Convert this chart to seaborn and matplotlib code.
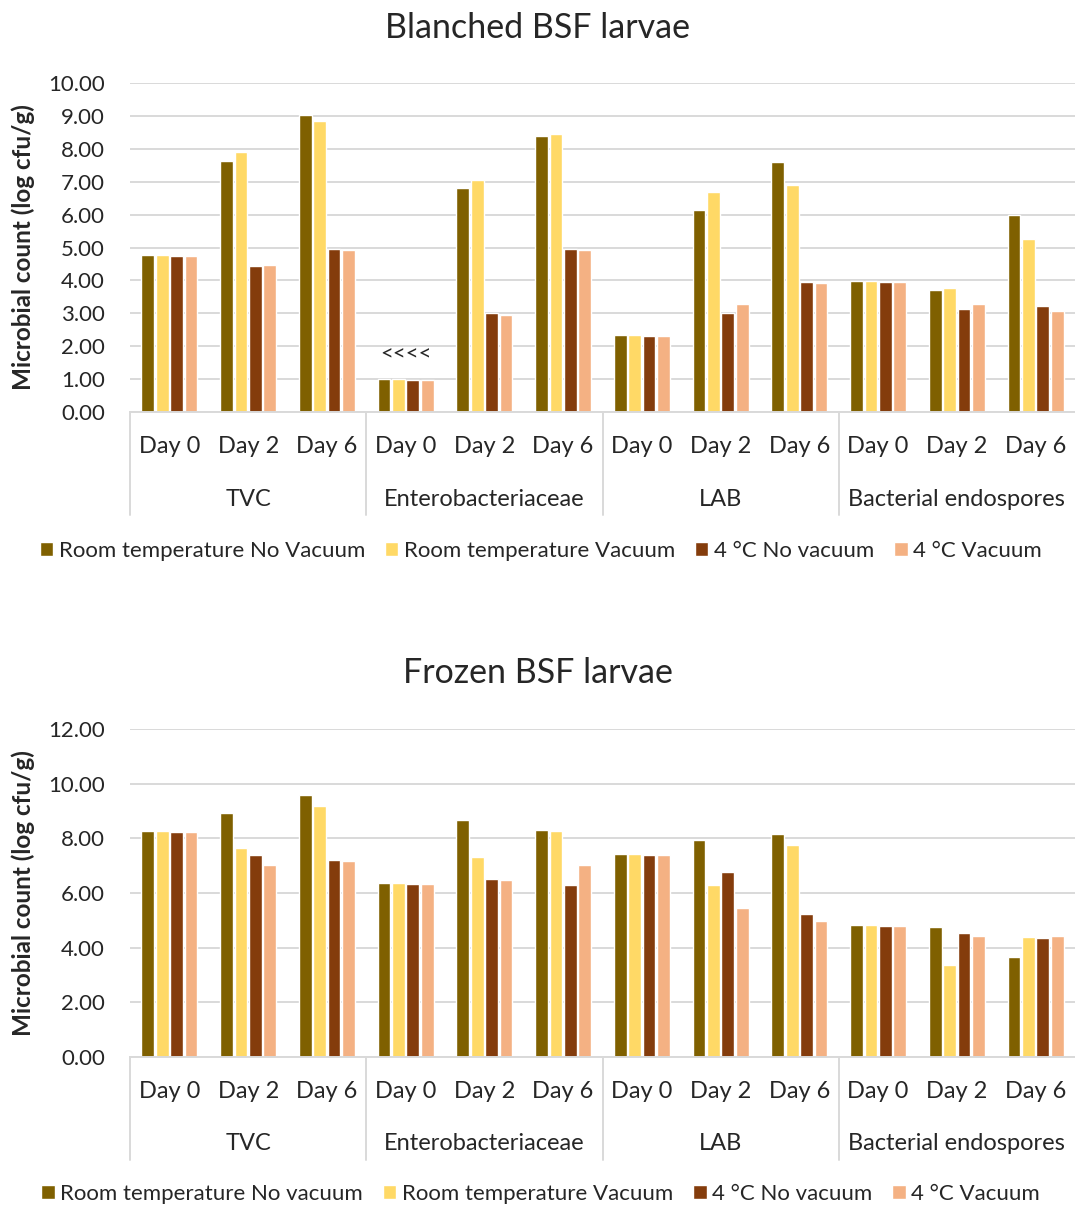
import matplotlib
matplotlib.use("Agg")
import matplotlib.pyplot as plt
import seaborn as sns
import pandas as pd
import numpy as np

# Categories
groups = ['TVC', 'Enterobacteriaceae', 'LAB', 'Bacterial endospores']
days = ['Day 0', 'Day 2', 'Day 6']

series_top = ['Room temperature No Vacuum', 'Room temperature Vacuum',
              '4 °C No vacuum', '4 °C Vacuum']
series_bottom = ['Room temperature No vacuum', 'Room temperature Vacuum',
                 '4 °C No vacuum', '4 °C Vacuum']
colors = ['#7F6000', '#FFD966', '#843C0C', '#F4B183']

# Blanched BSF larvae (log cfu/g), order: TVC d0,d2,d6, Entero d0,d2,d6, LAB ..., Endospores ...
blanched_rt_novac = [4.77, 7.62, 9.04, 1.00, 6.80, 8.39, 2.33, 6.15, 7.61, 3.98, 3.72, 5.99]
blanched_rt_vac   = [4.77, 7.90, 8.84, 1.00, 7.06, 8.46, 2.33, 6.68, 6.89, 3.98, 3.78, 5.25]
blanched_4c_novac = [4.74, 4.45, 4.96, 0.98, 3.01, 4.96, 2.30, 3.01, 3.95, 3.95, 3.14, 3.23]
blanched_4c_vac   = [4.74, 4.48, 4.93, 0.98, 2.95, 4.93, 2.30, 3.28, 3.92, 3.95, 3.28, 3.08]

# Frozen BSF larvae (log cfu/g)
frozen_rt_novac = [8.26, 8.92, 9.59, 6.38, 8.68, 8.29, 7.44, 7.94, 8.15, 4.82, 4.74, 3.65]
frozen_rt_vac   = [8.26, 7.64, 9.20, 6.38, 7.32, 8.26, 7.44, 6.30, 7.76, 4.82, 3.38, 4.40]
frozen_4c_novac = [8.22, 7.40, 7.21, 6.34, 6.50, 6.30, 7.40, 6.78, 5.22, 4.78, 4.55, 4.36]
frozen_4c_vac   = [8.22, 7.01, 7.17, 6.34, 6.47, 7.01, 7.40, 5.45, 4.98, 4.78, 4.44, 4.44]

keys = [f'{g}|{d}' for g in groups for d in days]


def make_df(values, names):
    rows = []
    for name, vals in zip(names, values):
        for k, v in zip(keys, vals):
            rows.append({'key': k, 'series': name, 'value': v})
    return pd.DataFrame(rows)


sns.set_theme(style="white")
plt.rcParams['font.family'] = ['Lato', 'DejaVu Sans']

FS = 17
W, H = 1075, 1205
fig = plt.figure(figsize=(W / 100, H / 100), dpi=100)

grid_c = '#D9D9D9'


def draw_panel(ax, df, names, ymax, ystep, title, title_y, legend_y, note=False):
    sns.barplot(data=df, x='key', y='value', hue='series', order=keys,
                hue_order=names, palette=colors, width=0.73, gap=0.12,
                saturation=1, errorbar=None, ax=ax)
    ax.set_xlim(-0.5, 11.5)
    ax.set_ylim(0, ymax)
    ax.set_yticks(np.arange(0, ymax + 0.01, ystep))
    ax.set_yticklabels([f'{t:.2f}' for t in np.arange(0, ymax + 0.01, ystep)],
                       fontsize=16)
    ax.set_xticks(range(len(keys)))
    ax.set_xticklabels([k.split('|')[1] for k in keys], fontsize=FS)
    ax.tick_params(axis='x', length=0, pad=17)
    ax.tick_params(axis='y', length=0, pad=18)
    ax.yaxis.grid(True, color=grid_c, linewidth=1.4)
    ax.set_axisbelow(True)
    for s in ['top', 'right', 'left']:
        ax.spines[s].set_visible(False)
    ax.spines['bottom'].set_color(grid_c)
    ax.spines['bottom'].set_linewidth(1.4)
    ax.set_xlabel('')
    ax.set_ylabel('Microbial count (log cfu/g)', fontsize=17.5, fontweight='bold')
    ax.yaxis.set_label_coords(-0.101, 0.5)

    # group separators and labels
    trans = ax.get_xaxis_transform()
    for x in [-0.5, 2.5, 5.5, 8.5]:
        ax.plot([x, x], [0, -0.313], transform=trans, color=grid_c,
                linewidth=1.4, clip_on=False)
    for i, g in enumerate(groups):
        ax.text(i * 3 + 1, -0.265, g, transform=trans, ha='center',
                va='center', fontsize=FS)

    if note:
        ax.text(3, 1.76, '<<<<', ha='center', va='center', fontsize=16)

    handles, labels = ax.get_legend_handles_labels()
    ax.get_legend().remove()
    fig.legend(handles, labels, loc='center', bbox_to_anchor=(0.503, legend_y),
               ncol=4, frameon=False, fontsize=16, handlelength=0.6,
               handleheight=0.6, handletextpad=0.25, columnspacing=0.9,
               borderaxespad=0)
    fig.text(0.5, title_y, title, ha='center', va='center', fontsize=24.5)


ax1 = fig.add_axes([130 / W, 1 - 412 / H, 945 / W, 329 / H])
draw_panel(ax1, make_df([blanched_rt_novac, blanched_rt_vac, blanched_4c_novac,
                         blanched_4c_vac], series_top),
           series_top, 10, 1, 'Blanched BSF larvae', 1 - 28 / H, 1 - 551 / H,
           note=True)

ax2 = fig.add_axes([130 / W, 1 - 1057 / H, 945 / W, 328 / H])
draw_panel(ax2, make_df([frozen_rt_novac, frozen_rt_vac, frozen_4c_novac,
                         frozen_4c_vac], series_bottom),
           series_bottom, 12, 2, 'Frozen BSF larvae', 1 - 673 / H, 1 - 1194 / H)

fig.savefig('out.png', dpi=100, facecolor='white')
